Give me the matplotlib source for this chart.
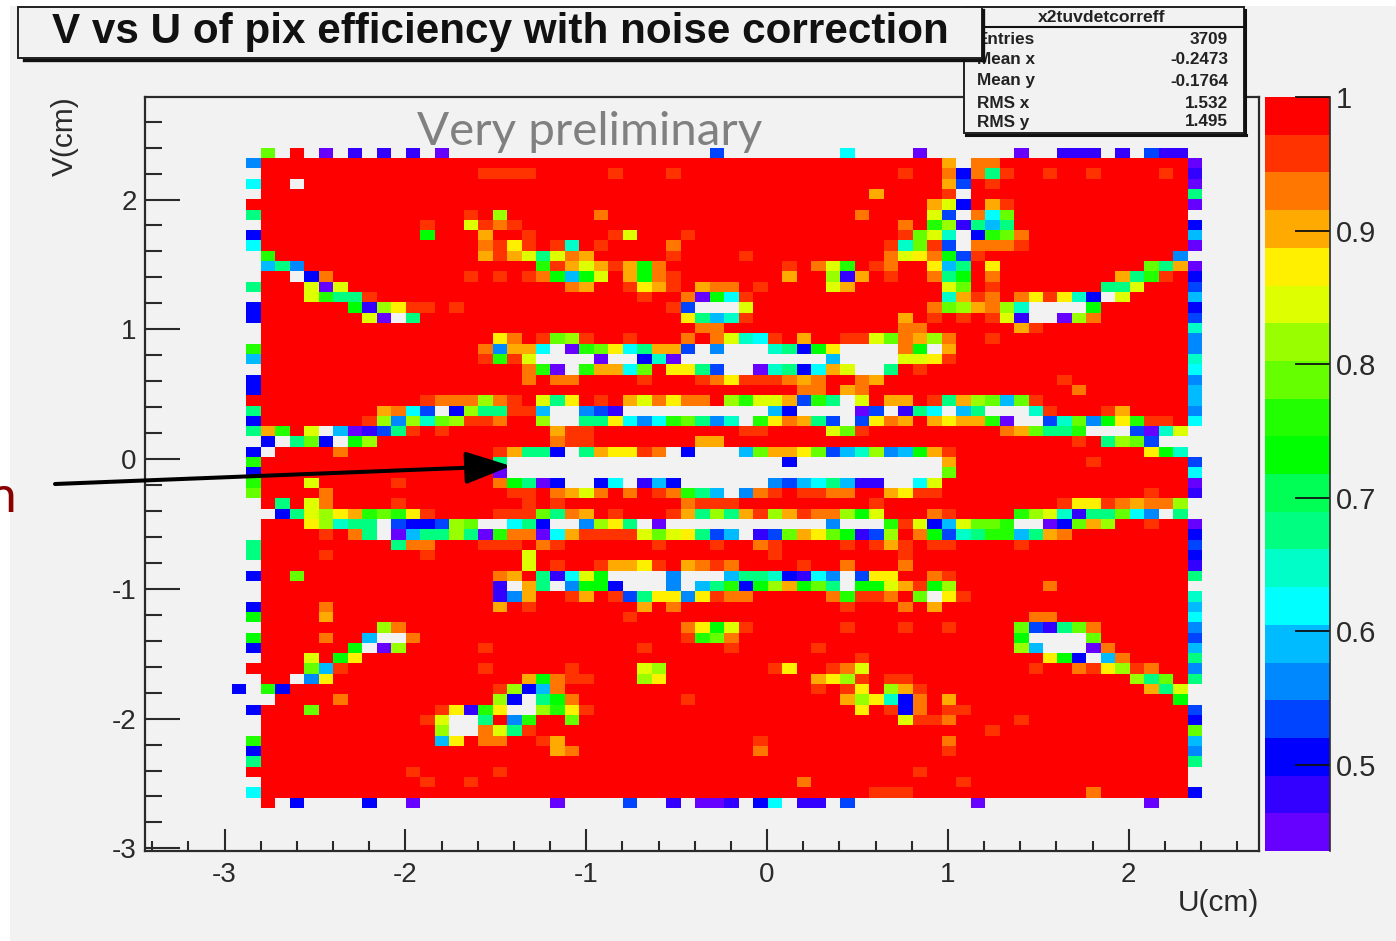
import matplotlib
matplotlib.use('Agg')
import matplotlib.pyplot as plt
import numpy as np
from matplotlib.colors import BoundaryNorm, ListedColormap
from matplotlib.patches import Rectangle
from matplotlib.ticker import MultipleLocator

plt.rcParams['font.family'] = ['Liberation Sans', 'DejaVu Sans']
plt.rcParams['axes.unicode_minus'] = False

W, H = 1396, 941
BG = '#f2f2f2'
INK = '#2a2a2a'

# one letter per palette band, top of the colour bar first
BAND_CODES = 'RroayzlLgGnmtcsSbBvV'
BAND_COLORS = ['#ff0000', '#ff3300', '#ff7700', '#ffaa00', '#fff000',
               '#ddff00', '#99ff00', '#66ff00', '#22ff00', '#00ff00',
               '#00ff55', '#00ff80', '#00ffc8', '#00ffff', '#00bbff',
               '#0088ff', '#0044ff', '#0000ff', '#3300ff', '#6600ff']
Z_MIN, Z_MAX = 0.4356, 1.0

U_FIRST_EDGE, V_FIRST_EDGE = -2.96, 2.40
U_BIN, V_BIN = 0.0801, 0.0795

# efficiency per bin, top row first; '.' = empty bin
CELLS = [
    ". .L.R.V.v.v .v.V...... .......... ..b....... .c....V... ...V..vvv. v.bvv.",
    ". SRRRRRRRRR RRRRRRRRRR RRRRRRRRRR RRRRRRRRRR RRRRRRRRa. ooRRRRRRRR RRRRRV",
    ". .RRRRRRRRR RRRRRRrrrr RRRRRrRRRr RRRRRRRRRR RRRRRrRRoB omrRRrRRrR RRRrRv",
    ". cRR.RRRRRR RRRRRRRRRR RRRRRRRRRR RRRRRRRRRR RRRRRRRRab RrRRRRRRRR RRRRRV",
    ". .RRRRRRRRR RRRRRRRRRR RRRRRRRRRR RRRRRRRRRR RRRaRRRRr. RRRRRRRRRR RRRRRm",
    ". RRRRRRRRRR RRRRRRRRRR RRRRRRRRRR RRRRRRRRRR RRRRRRRazB RarRRRRRRR RRRRRV",
    ". mRRRRRRRRR RRRRRrRlRR RRRRoRRRRR RRRRRRRRRR RRoRRRRzb. ocLRRRRRRR RRRRR.",
    ". .RRRRRRRRR RRrRRzrorR RRRRRRRRRR RRRRRRRRRR RRRRRoRglv msmRRRRRRR RRRRRB",
    ". BRRRRRRRRR RRGRRRaRRr RRRRRrzRRR rRRRRRRRRR RRRRRrLzt. BgLoRRRRRR RRRRRs",
    ". cRRRRRRRRR RRRRRRoryr RrtRrRRRRo RRRRRRRRRR RRRRrtLrb. ooorRRRRRR RRRRRV",
    ". .gRRRRRRRR RRRRRRaraz mzoaRRRRRr RRRRrRRRRR RRRRozyoGb rRRRRRRRRR RRRRS.",
    ". .smSRRRRRR RRRRRRRRRR grazaraGoR RRRRRRRrRo zgRroRRysm RyRRRRRRRR RRLmaV",
    ". .RR.BoRRRR RRRRRrRrRr oGsGzRaGor RRRRRRRaRR lvaRrRRomG RoRRRRRRRR amgrRB",
    ". mRRRzVzRRR RRRRRRRRRR RRoaRRryar RaooRrRRRR zaRRRRRRzL RrRRRRRRRm mzRRRb",
    ". .RRRzgmmrR RRRRRRRRRR RRRRRRRrRR oVGcrRRRRR RRRRRRRRta roRoyrytB. zRRRRs",
    ". BRRRRRRGvl yrrRrRRRRR RRRRRRRRRr b...zRRRRR RRRRRRRoLl aolt....GR RRRRRB",
    ". BRRRRRRRzV .mRRRRRRRR RRRRRRRRRR ymstrRRRRR RRRRRaRrRr Rrzv..VloR RRRRRb",
    ". .RRRRRRRRR RRRRRRRRRR RRRRRRRRRR RooRRRRRRR RRRRRooRRR RRRarRRRRR RRRRRt",
    ". .RRRRRRRRR RRRRRRRyoR rLlrRRrRRR oRoztcrRaR RrrzLoaloR RrRRRRRRRR RRRRRS",
    ". gRRRRRRRRR RRRRRRoSaa c.VgLycmaa b.S...tmBG y....oG.aR RRRRRRRRRR RRRRRS",
    ". sRRRRRRRRR RRRRRRrgrz ....V..BtV .......... s....zzyrR RRRRRRRRRR RRRRRt",
    ". .RRRRRRRRR RRRRRRRRRo gV.gaacLRy ymb..VtmBc az..mRrRRR RRRRRRRRRR RRRRRc",
    ". BRRRRRRRRR RRRRRRRRRo RooRRRRrRR Rroyrrroao RRoaRRRRRR RRRRRRrRRR RRRRRS",
    ". BRRRRRRRRR RRRRRRRRRR RRRRRRRRRR RRRRRRRRoo RaoRRRRRRR RRRRRRRoRR RRRRRs",
    ". RRRRRRRRRR RRrooolorR zmyRrRazoy ooRlgzzabg m.zRaaRrma lLsLrRRRRR RRRRRs",
    ". mRRRRRRRRa ocb.Blmmrr s..Sbv.... ......sB.. ..Vb.vmc.s m...trRRRr aRRRRS",
    ". BRRRRRRRrl SltLlrroRR l..mmycScg LmSt.gyoam b.byoaRaya agV..btLSG ygrrRc",
    ". magRz.sVvb mrRrRRRRRR RarrRRRRRR RRRRrrRRRR zLrRRRRRRR RRoaLmmg.. .bVtz.",
    ". .B.mLB.GlR RRRRRRRRRR RorrRRRRRR RaaRRRRRRR RRRRRRRRRR RRRRRRRrRm lLb...",
    ". B.RRRRoRRR RRRRRRRram mB.mayyro. B...sLaayL bstlSsGarR RRRRRRRRRR RRyGt.",
    ". gRRRRRRRRR RRRRRRRm.. .......... .......B.. ........aR RRRRRRRRrR RRRRRb",
    ". BRRRRRRRRR RRRRRRRV.. .......... .......... ........LR RRRRRRRRRR RRRRRc",
    ". gRRRzRRRRR rRRRRRRoGm VB..Bc.vsB ......Sbsc msvv..czRR RRRRRRRRRR RRRRRV",
    ". LRRRRoRRRR RRRRRRRRrr RoazoRoRro gms.SorRrr ooRRayrrRR RRRRRRRRRR RRrRRv",
    ". .RmRzoRRRR rRRRRRRRRr RrRRRRRRRR orrrRRRRRR RRRrRRRRRR RRRRRRryyr oaool.",
    ". ..BmzlyagL gyrRRRRrrr LmoaRrRRRr amlmarlaro olGzRRRorR RRRglztvmm LcS.m.",
    ". .RRRyltmm. bBBblL..cm B..Slym.V. .......... S...grzBsz LLg..VBLal RRrRRV",
    ". .RRRRrRom. VsmmlmVgoo VcarrrrzLz ymbs.vbLay LGvblRoGbt mggsmaoRRR RRRRRB",
    ". mRRRRRRRRR mooRRRrrrR orRRRRRRrR RRrRRorRRR RrRrarRrrR RRRrRRRRRR RRRRRb",
    ". mRRRRrRRRR RRrRRRRRRz RRRRRRRRRR RRRRRRrRRR RRRRRrRRRR RRRRRRRRRR RRRRRB",
    ". .RRRRRRRRR RRRRRRRRRz RrRRraayrR aoroRRRRrR RoRRRoRRRR RRRRRRRRRR RRRRRv",
    ". BRRLRRRRRR RRRRRRRoaR mvczG....S ...smmtBvc S.byyRRorR RRRRRRRRRR RRRRRm",
    ". .RRRRRRRRR RRRRRRRv.a m.SGGB...S .smgBGlaGL m.GGzarGlR RRRRRoRRRR RRRRR.",
    ". .RRRRRRRRR RRRRRRRvSa RRraRrbmyy SyrooRRRRR ogrroRL.yr RRRRRRRRRR RRRRRt",
    ". BRRRRoRRRR RRRRRRRaRr RRRRRRRaRo RRRRRRRRRR RrRRRoRaRR RRRRRRRRRR RRRRRs",
    ". GRRRRaRRRR RRRRRRRRRR RRRRRRrRRR RRRRRRRRRR RRRRRRRRRR RRRRooRRRR RRRRRc",
    ". .RRRRRRRRl oRRRRRRRRR RRRRRRRRRR oyGzrRRRRR RrRRRrRRrR RRRLbvmLoR RRRRRS",
    ". GRRRRoRRs. .oRRRRRRRR RRRRRRRRRR rgLoRRRRRR RRRRRRRRRR RRRG....LR RRRRRb",
    ". BRRRRRRG.V lRRRRRrRRR RRRRRRRrRR RRRrRRRRRr RRRRRRRRRR RRRls...Vo RRRRRs",
    ". .RRRzRGyRR RRRRRRRRRR RRRRRRRRRR RRRRRRRRRR RRrRRRRRRR RRRRRyGB.s oRRRRm",
    ". RRRRLsrRRR RRRRRRrRRR RRrRRRRzlR RRRRRRryRR rozRRRRRRR RRRRrRRory lroRRS",
    ". .RR.SyRRRR RRRRRRRRRa GorrRRRlyR RRRRRRRRRa ylrRrrRRRR RRRRRRRRRR RlmLRm",
    "B .gBRRRRRRR RRRRRRRrlB soRRRRRRRR RRRRRRRRRr RryRlarRRR RRRRRRRRRR RRamz.",
    ". ..RRRRoRRR RRRRRRRlB. mGoRRRRRRR rRRRRRRRRR RalytBoRaR RRRRRRRRRR RRRRG.",
    ". BRRRLRRRRR RRRryvgy.. lgyrRRRRRR RRRRRRRRRR RRyRrBoRrr RRRRRRRRRR RRRRRb",
    ". .RRRRRRRRR RRrz..mRSg RRLRRRRRRR RRRRRRRRRR RRRRRzrroR RRRrRRRRRR RRRRRB",
    ". .RRRRRRRRR RRRl..ozmr RRRRRRRRRR RRRRRRRRRR RRRRRRRRRR RrRRRRRRRR RRRRRL",
    ". gRRRRRRRRR RRRsyRooRR raRRRRRRRR RRRRRrRRRR RRRRRRRRoR RRRRRRRRRR RRRRRs",
    ". BRRRRRRRRR RRRRRRRRRR RaoRRRRRRR RRRRRoRRRR RRRRRRRRrR RRRRRRRRRR RRRRRS",
    ". mRRRRRRRRR RRRRRRRRRR RRRRRRRRRR RRRRRRRRRR RRRRRRRRRR RRRRRRRRRR RRRRRm",
    ". RRRRRRRRRR RrRRRRRrRR RRRRRRRRRR RRRRRRRRRR RRRRRRrRRR RRRRRRRRRR RRRRR.",
    ". .RRRRRRRRR RRrRRrRRRR RRRRRRRRRR RRRRRRRRoR RRRRRRRRRr RRRRRRRRRR RRRRR.",
    ". cRRRRRRRRR RRRRRRRRRR RRRRRRRRRR RRRRRRRRRR RRRrrrRRRR RRRRRRRRoR RRRRRB",
    ". .R.B....B. .V........ .V....b..v .VVv.Bc.vv .b........ V......... ..V...",
]

STATS_NAMES = ['Entries', 'Mean x', 'Mean y', 'RMS x', 'RMS y']
STATS_VALUES = ['3709', '-0.2473', '-0.1764', '1.532', '1.495']


def fx(px):
    return px / W


def fy(py):
    return 1 - py / H


def px_axes(left, top, right, bottom):
    return fig.add_axes([fx(left), fy(bottom), (right - left) / W, (bottom - top) / H])


def px_box(left, top, right, bottom, **kw):
    fig.add_artist(Rectangle((fx(left), fy(bottom)), (right - left) / W, (bottom - top) / H,
                             transform=fig.transFigure, **kw))


def px_line(x0, y0, x1, y1, lw=2.0, zorder=6):
    fig.add_artist(plt.Line2D([fx(x0), fx(x1)], [fy(y0), fy(y1)], color='#111111', lw=lw,
                              transform=fig.transFigure, zorder=zorder))


edges = np.linspace(Z_MIN, Z_MAX, len(BAND_CODES) + 1)
centers = 0.5 * (edges[:-1] + edges[1:])[::-1]
code_value = dict(zip(BAND_CODES, centers))
cmap = ListedColormap(BAND_COLORS[::-1])
norm = BoundaryNorm(edges, cmap.N)

rows = [r.replace(' ', '') for r in CELLS]
n_cols = max(len(r) for r in rows)
z = np.full((len(rows), n_cols), np.nan)
for i, r in enumerate(rows):
    for j, ch in enumerate(r):
        if ch != '.':
            z[i, j] = code_value[ch]

u_edges = U_FIRST_EDGE + U_BIN * np.arange(n_cols + 1)
v_edges = V_FIRST_EDGE - V_BIN * np.arange(len(rows) + 1)

fig = plt.figure(figsize=(W / 100, H / 100), dpi=100, facecolor='white')
px_box(10, 6, W, H, facecolor=BG, edgecolor='none', zorder=-5)

# main frame
ax = px_axes(145, 97, 1259, 851)
ax.set_facecolor('none')
ax.pcolormesh(u_edges, v_edges, np.ma.masked_invalid(z), cmap=cmap, norm=norm)
ax.set_xlim(-3.44, 2.72)
ax.set_ylim(-3.02, 2.79)
ax.xaxis.set_major_locator(MultipleLocator(1))
ax.xaxis.set_minor_locator(MultipleLocator(0.2))
ax.yaxis.set_major_locator(MultipleLocator(1))
ax.yaxis.set_minor_locator(MultipleLocator(0.2))
ax.tick_params(axis='x', which='major', direction='in', length=16, width=1.5, color=INK,
               labelsize=20, labelcolor=INK, pad=8)
ax.tick_params(axis='x', which='minor', direction='in', length=7.5, width=1.5, color=INK)
ax.tick_params(axis='y', which='major', direction='in', length=25, width=1.5, color=INK,
               labelsize=20, labelcolor=INK, pad=6)
ax.tick_params(axis='y', which='minor', direction='in', length=12.5, width=1.5, color=INK)
for s in ax.spines.values():
    s.set_linewidth(1.6)
    s.set_color(INK)

fig.text(fx(1259), fy(903), 'U(cm)', ha='right', va='center', fontsize=21.5, color=INK)
fig.text(fx(65), fy(96), 'V(cm)', ha='center', va='top', rotation=90, fontsize=21.5, color=INK)
fig.text(fx(590), fy(132), 'Very preliminary', ha='center', va='center', fontsize=34.2,
         color='#808080', family=['Lato', 'DejaVu Sans'])

# colour bar
cax = px_axes(1265, 97, 1330, 851)
cax.set_facecolor('none')
cax.pcolormesh([0, 1], edges, centers[::-1].reshape(-1, 1), cmap=cmap, norm=norm)
cax.set_ylim(Z_MIN, Z_MAX)
cax.set_xticks([])
cax.yaxis.tick_right()
cax.set_yticks([0.5, 0.6, 0.7, 0.8, 0.9, 1.0], labels=['0.5', '0.6', '0.7', '0.8', '0.9', '1'])
cax.tick_params(axis='y', direction='in', length=25, width=1.3, color='#111111',
                labelsize=21, labelcolor=INK, pad=4)
for name in ['top', 'left', 'bottom']:
    cax.spines[name].set_visible(False)
cax.spines['right'].set_linewidth(1.2)
cax.spines['right'].set_color(INK)

# stats box
px_box(964, 7, 1244, 133, facecolor=BG, edgecolor='#222222', lw=1.4, zorder=4)
px_line(964, 27, 1244, 27, lw=1.5, zorder=4.1)
px_line(966, 135, 1246, 135, lw=2.2, zorder=4.1)
px_line(1245, 10, 1245, 135, lw=2.2, zorder=4.1)
fig.text(fx(1102), fy(18), 'x2tuvdetcorreff', ha='center', va='center', fontsize=12.6,
         fontweight='bold', color='#222222', zorder=4.2)
stat_ys = [40, 60, 81, 104, 122]
for name, value, sy in zip(STATS_NAMES, STATS_VALUES, stat_ys):
    fig.text(fx(977), fy(sy), name, ha='left', va='center', fontsize=12.3, fontweight='bold',
             color='#222222', zorder=4.2)
    fig.text(fx(1228), fy(sy), value, ha='right', va='center', fontsize=12.3, fontweight='bold',
             color='#222222', zorder=4.2)

# title box sits on top of the stats box
px_box(18, 7, 982, 58, facecolor=BG, edgecolor='#222222', lw=1.4, zorder=5)
px_line(24, 60, 984, 60, lw=2.4)
px_line(983, 10, 983, 60, lw=2.4)
fig.text(fx(500), fy(32), 'V vs U of pix efficiency with noise correction', ha='center', va='center',
         fontsize=30.4, fontweight='bold', color='#111111', zorder=6)

# annotation
ax.annotate('', xy=(511, H - 466), xytext=(55, H - 484), xycoords='figure pixels',
            textcoords='figure pixels', annotation_clip=False, zorder=7,
            arrowprops=dict(arrowstyle='-|>,head_length=2.8,head_width=1.0', mutation_scale=10,
                            lw=2.9, color='black', shrinkA=0, shrinkB=0))
fig.text(fx(16), fy(512), 'n', ha='right', va='baseline', fontsize=37, color='#8b0000',
         family=['Lato', 'DejaVu Sans'])

fig.savefig('out.png', dpi=100, facecolor='white')
